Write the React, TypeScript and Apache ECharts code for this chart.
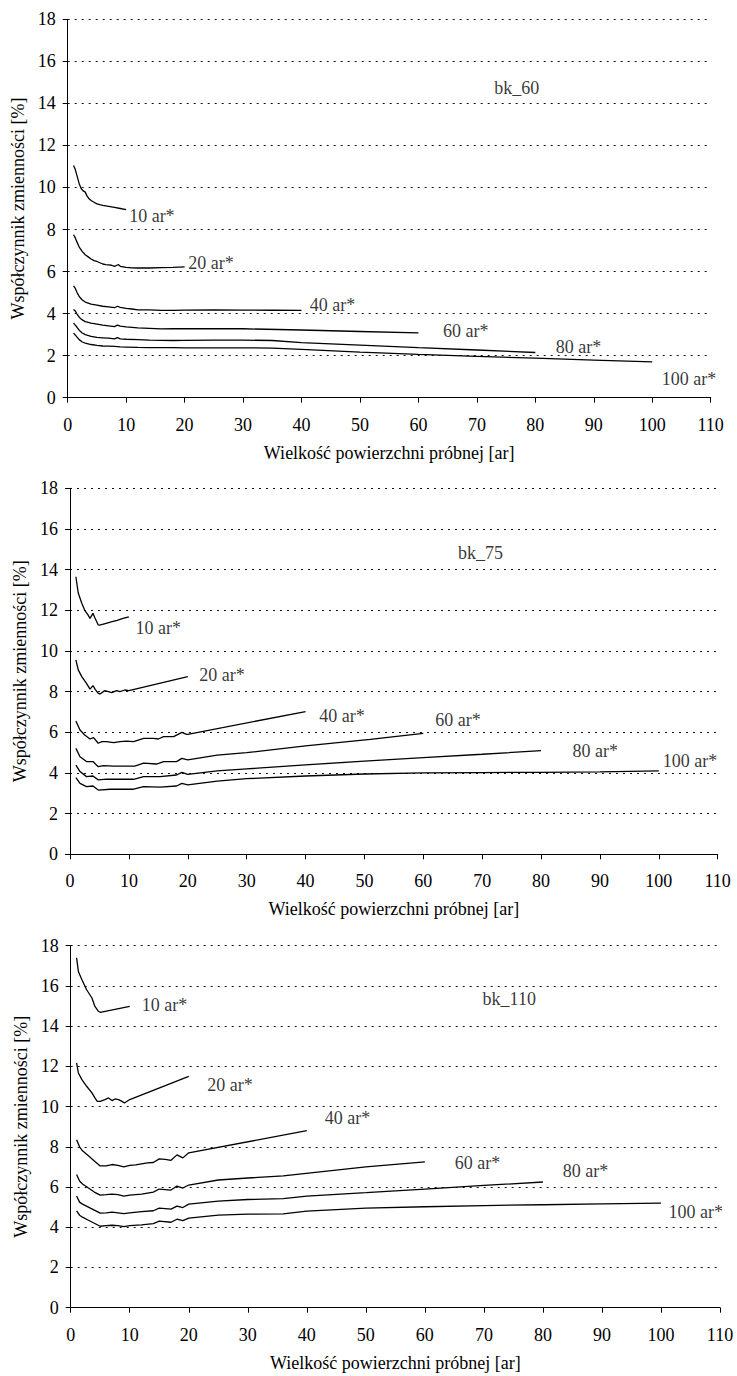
import React, { useEffect, useRef } from "react";
import * as echarts from "echarts";

const FONT = '"Liberation Serif", "Times New Roman", serif';

// ---------- axes ----------
const X_MIN = 0;
const X_MAX = 110;
const X_STEP = 10;
const Y_MIN = 0;
const Y_MAX = 18;
const Y_STEP = 2;
const X_TITLE = "Wielkość powierzchni próbnej [ar]";
const Y_TITLE = "Współczynnik zmienności [%]";

// ---------- bk_60 ----------
const a10x = [1, 1.3, 1.6, 2, 2.3, 2.6, 3, 3.3, 3.6, 4, 4.5, 5, 5.5, 6, 7, 8, 9, 10];
const a10y = [11.05, 10.85, 10.55, 10.15, 9.95, 9.85, 9.78, 9.6, 9.48, 9.38, 9.3, 9.22, 9.18, 9.15, 9.1, 9.05, 9.0, 8.95];
const a20x = [1, 1.3, 1.6, 2, 2.5, 3, 3.5, 4, 4.5, 5, 5.5, 6, 6.5, 7, 7.5, 8, 8.4, 8.7, 9, 10, 11, 12, 14, 16, 18, 20];
const a20y = [7.75, 7.6, 7.4, 7.15, 6.95, 6.8, 6.7, 6.6, 6.52, 6.48, 6.42, 6.36, 6.33, 6.32, 6.3, 6.25, 6.3, 6.33, 6.25, 6.2, 6.18, 6.17, 6.17, 6.19, 6.2, 6.22];
const a40x = [1, 1.3, 1.6, 2, 2.5, 3, 3.5, 4, 5, 6, 7, 8, 8.5, 9, 10, 11, 12, 14, 16, 18, 20, 25, 30, 35, 40];
const a40y = [5.32, 5.2, 5.0, 4.8, 4.65, 4.55, 4.5, 4.45, 4.4, 4.35, 4.32, 4.28, 4.35, 4.3, 4.25, 4.22, 4.18, 4.18, 4.15, 4.15, 4.17, 4.18, 4.17, 4.16, 4.15];
const a60x = [1, 1.3, 1.6, 2, 2.5, 3, 4, 5, 6, 7, 8, 8.5, 9, 10, 12, 14, 16, 18, 20, 30, 40, 50, 60];
const a60y = [4.2, 4.12, 3.98, 3.82, 3.7, 3.62, 3.55, 3.5, 3.45, 3.42, 3.38, 3.45, 3.4, 3.37, 3.32, 3.3, 3.27, 3.28, 3.28, 3.28, 3.22, 3.15, 3.08];
const a80x = [1, 1.3, 1.6, 2, 2.5, 3, 4, 5, 6, 7, 8, 8.5, 9, 10, 12, 14, 16, 18, 20, 25, 30, 35, 40, 50, 60, 70, 80];
const a80y = [3.55, 3.45, 3.35, 3.2, 3.08, 3.0, 2.92, 2.87, 2.85, 2.83, 2.8, 2.86, 2.8, 2.78, 2.76, 2.74, 2.73, 2.72, 2.73, 2.74, 2.74, 2.72, 2.62, 2.5, 2.38, 2.27, 2.15];
const a100x = [1, 1.3, 1.6, 2, 2.5, 3, 4, 5, 6, 7, 8, 9, 10, 12, 14, 16, 18, 20, 25, 30, 35, 40, 50, 60, 70, 80, 90, 100];
const a100y = [3.07, 2.98, 2.88, 2.75, 2.65, 2.6, 2.53, 2.49, 2.46, 2.45, 2.44, 2.42, 2.41, 2.39, 2.38, 2.38, 2.38, 2.37, 2.37, 2.37, 2.36, 2.3, 2.17, 2.06, 1.97, 1.88, 1.79, 1.7];
const aLabelNames = ["10 ar*", "20 ar*", "40 ar*", "60 ar*", "80 ar*", "100 ar*", "bk_60"];
const aLabelX = [14.4, 24.5, 45.3, 68.1, 87.4, 106.3, 76.8];
const aLabelY = [8.65, 6.43, 4.4, 3.15, 2.4, 0.9, 14.73];

// ---------- bk_75 ----------
const b10x = [1, 1.4, 2, 2.5, 3, 3.4, 3.9, 4.2, 4.8, 5, 6, 7, 8, 9, 10];
const b10y = [13.65, 12.85, 12.35, 12.0, 11.8, 11.6, 11.85, 11.65, 11.28, 11.27, 11.35, 11.43, 11.51, 11.6, 11.68];
const b20x = [1, 1.4, 2, 2.8, 3.4, 3.9, 4.3, 4.8, 5.1, 5.9, 6.5, 7.1, 7.9, 8.5, 9.3, 10, 20];
const b20y = [9.56, 9.07, 8.74, 8.41, 8.12, 8.3, 8.1, 7.92, 7.88, 8.05, 8.0, 7.95, 8.05, 8.0, 8.08, 8.05, 8.74];
const b40x = [1, 1.7, 2.5, 3.4, 4, 4.8, 5.4, 6.2, 7.4, 8.5, 9.6, 10.8, 12.5, 14.2, 15, 15.9, 17.6, 19, 19.8, 20, 40];
const b40y = [6.56, 6.11, 5.87, 5.67, 5.74, 5.46, 5.54, 5.54, 5.49, 5.54, 5.57, 5.54, 5.7, 5.7, 5.67, 5.79, 5.79, 6.0, 5.9, 5.9, 7.02];
const b60x = [1, 1.7, 2.8, 3.9, 4.8, 5.7, 7.4, 9.6, 11, 12.5, 14.7, 15.9, 18.1, 19, 20, 25, 30, 40, 51, 60];
const b60y = [5.21, 4.8, 4.56, 4.56, 4.31, 4.36, 4.34, 4.34, 4.34, 4.48, 4.44, 4.56, 4.56, 4.72, 4.64, 4.88, 5.0, 5.33, 5.65, 5.95];
const b80x = [1, 1.7, 2.8, 3.9, 4.8, 6.2, 8, 10.8, 12.5, 15.3, 18.1, 19, 20, 25, 30, 40, 50, 60, 70, 80];
const b80y = [4.39, 4.07, 3.82, 3.85, 3.66, 3.7, 3.69, 3.69, 3.82, 3.82, 3.9, 4.03, 3.93, 4.1, 4.2, 4.4, 4.58, 4.75, 4.92, 5.1];
const b100x = [1, 1.7, 2.8, 3.9, 4.8, 6.8, 8, 10.8, 12.5, 15.3, 18.1, 19, 20, 25, 30, 40, 50, 60, 70, 80, 90, 100];
const b100y = [3.77, 3.49, 3.33, 3.36, 3.16, 3.2, 3.2, 3.2, 3.33, 3.3, 3.36, 3.49, 3.41, 3.6, 3.72, 3.85, 3.95, 4.0, 4.02, 4.03, 4.05, 4.1];
const bLabelNames = ["10 ar*", "20 ar*", "40 ar*", "60 ar*", "80 ar*", "100 ar*", "bk_75"];
const bLabelX = [15.0, 25.8, 46.2, 65.9, 89.2, 105.3, 69.7];
const bLabelY = [11.11, 8.82, 6.82, 6.6, 5.1, 4.6, 14.84];

// ---------- bk_110 ----------
const c10x = [1, 1.3, 1.9, 2.7, 3.6, 4.1, 4.7, 5, 10];
const c10y = [17.4, 16.72, 16.31, 15.81, 15.4, 14.98, 14.74, 14.69, 14.98];
const c20x = [1, 1.3, 1.9, 2.7, 3.6, 4.1, 4.5, 5, 5.8, 6.4, 7, 7.5, 8.1, 8.7, 9.1, 10, 20];
const c20y = [12.17, 11.67, 11.34, 11.01, 10.68, 10.43, 10.26, 10.26, 10.35, 10.43, 10.3, 10.38, 10.35, 10.26, 10.18, 10.35, 11.5];
const c40x = [1, 1.5, 2, 3, 4, 5, 6, 7, 8, 9, 10, 11, 12, 13, 14, 15, 16, 17, 18, 19, 20, 40];
const c40y = [8.35, 8.0, 7.8, 7.55, 7.3, 7.05, 7.05, 7.12, 7.08, 7.0, 7.08, 7.1, 7.15, 7.2, 7.22, 7.4, 7.38, 7.33, 7.6, 7.45, 7.7, 8.8];
const c60x = [1, 1.5, 2, 3, 4, 5, 6, 7, 8, 9, 10, 12, 14, 15, 17, 18, 19, 20, 25, 30, 36, 50, 60];
const c60y = [6.62, 6.3, 6.15, 5.95, 5.75, 5.6, 5.62, 5.65, 5.62, 5.55, 5.6, 5.65, 5.75, 5.9, 5.85, 6.05, 5.95, 6.1, 6.35, 6.45, 6.55, 7.0, 7.25];
const c80x = [1, 1.5, 2, 3, 4, 5, 6, 7, 8, 9, 10, 12, 14, 15, 17, 18, 19, 20, 25, 30, 36, 40, 50, 60, 70, 80];
const c80y = [5.55, 5.25, 5.15, 5.0, 4.85, 4.7, 4.72, 4.75, 4.72, 4.68, 4.72, 4.78, 4.82, 4.95, 4.9, 5.05, 4.98, 5.15, 5.3, 5.38, 5.42, 5.55, 5.72, 5.9, 6.08, 6.25];
const c100x = [1, 1.5, 2, 3, 4, 5, 6, 7, 8, 9, 10, 12, 14, 15, 17, 18, 19, 20, 25, 30, 36, 40, 50, 60, 70, 80, 90, 100];
const c100y = [4.82, 4.6, 4.5, 4.35, 4.2, 4.05, 4.08, 4.1, 4.08, 4.03, 4.08, 4.12, 4.18, 4.3, 4.25, 4.4, 4.33, 4.45, 4.6, 4.65, 4.67, 4.8, 4.95, 5.02, 5.08, 5.12, 5.16, 5.2];
const cLabelNames = ["10 ar*", "20 ar*", "40 ar*", "60 ar*", "80 ar*", "100 ar*", "bk_110"];
const cLabelX = [15.9, 27.0, 46.9, 68.9, 87.2, 105.9, 74.3];
const cLabelY = [15.07, 11.09, 9.44, 7.19, 6.78, 4.76, 15.37];

const PANELS = [
  {
    lines: [[a10x, a10y], [a20x, a20y], [a40x, a40y], [a60x, a60y], [a80x, a80y], [a100x, a100y]],
    labels: [aLabelNames, aLabelX, aLabelY],
  },
  {
    lines: [[b10x, b10y], [b20x, b20y], [b40x, b40y], [b60x, b60y], [b80x, b80y], [b100x, b100y]],
    labels: [bLabelNames, bLabelX, bLabelY],
  },
  {
    lines: [[c10x, c10y], [c20x, c20y], [c40x, c40y], [c60x, c60y], [c80x, c80y], [c100x, c100y]],
    labels: [cLabelNames, cLabelX, cLabelY],
  },
];

// layout (pixels)
const GRIDS = [
  { left: 67.7, top: 19.3, width: 643, height: 378.4 },
  { left: 70, top: 488.3, width: 647.7, height: 366 },
  { left: 70.7, top: 945.7, width: 649.3, height: 362 },
];

export default function App() {
  const ref = useRef<HTMLDivElement>(null);

  useEffect(() => {
    if (!ref.current) return;
    const chart = echarts.init(ref.current, undefined, { renderer: "svg" });

    const textBase = { fontFamily: FONT, color: "#000", fontSize: 18 };

    const xAxis = GRIDS.map((_, i) => ({
      type: "value",
      gridIndex: i,
      min: X_MIN,
      max: X_MAX,
      interval: X_STEP,
      name: X_TITLE,
      nameLocation: "middle",
      nameGap: 46,
      nameTextStyle: { ...textBase },
      axisLine: { show: true, lineStyle: { color: "#000", width: 1 } },
      axisTick: { show: true, length: 5, lineStyle: { color: "#000", width: 1 } },
      axisLabel: { ...textBase, margin: 18 },
      splitLine: { show: false },
    }));

    const yAxis = GRIDS.map((_, i) => ({
      type: "value",
      gridIndex: i,
      min: Y_MIN,
      max: Y_MAX,
      interval: Y_STEP,
      name: Y_TITLE,
      nameLocation: "middle",
      nameGap: 38,
      nameTextStyle: { ...textBase },
      axisLine: { show: true, lineStyle: { color: "#000", width: 1 } },
      axisTick: { show: true, length: 5, lineStyle: { color: "#000", width: 1 } },
      axisLabel: { ...textBase, margin: 12 },
      splitLine: { show: true, lineStyle: { color: "#111", width: 1, type: [2, 5] } },
    }));

    const series: any[] = [];
    PANELS.forEach((p, i) => {
      p.lines.forEach(([xs, ys]) => {
        series.push({
          type: "line",
          xAxisIndex: i,
          yAxisIndex: i,
          data: (xs as number[]).map((x, k) => [x, (ys as number[])[k]]),
          symbol: "none",
          showSymbol: false,
          silent: true,
          lineStyle: { color: "#000", width: 1.3 },
        });
      });
      const [names, lx, ly] = p.labels as [string[], number[], number[]];
      series.push({
        type: "scatter",
        xAxisIndex: i,
        yAxisIndex: i,
        symbolSize: 1,
        silent: true,
        itemStyle: { color: "rgba(0,0,0,0)" },
        label: {
          show: true,
          position: "inside",
          formatter: "{b}",
          ...textBase,
        },
        data: names.map((n, k) => ({ name: n, value: [lx[k], ly[k]] })),
      });
    });

    chart.setOption({
      animation: false,
      backgroundColor: "#fff",
      grid: GRIDS.map((g) => ({ ...g, containLabel: false })),
      xAxis,
      yAxis,
      series,
    });

    return () => chart.dispose();
  }, []);

  return (
    <div
      ref={ref}
      style={{ position: "absolute", left: 0, top: 0, width: 737, height: 1376, background: "#fff" }}
    />
  );
}
